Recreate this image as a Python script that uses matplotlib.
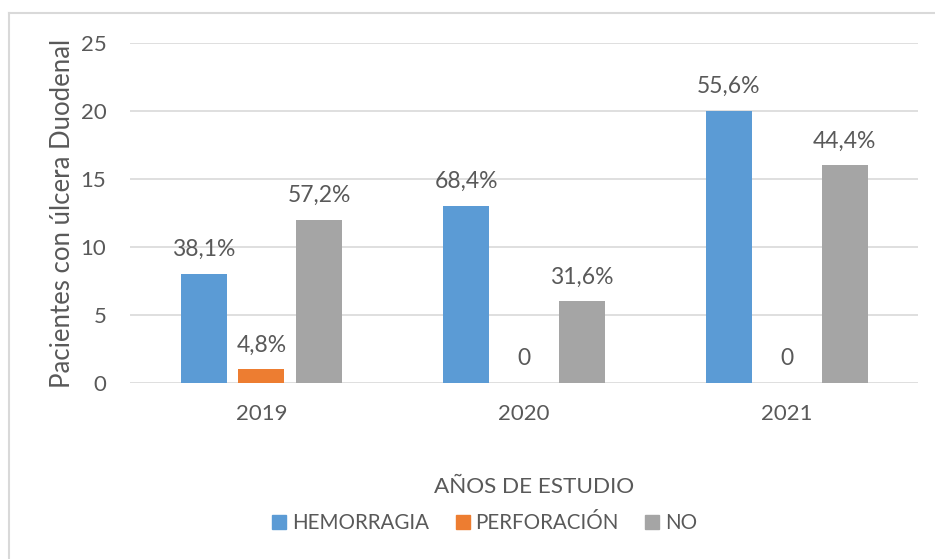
import matplotlib
matplotlib.use("Agg")
import matplotlib.pyplot as plt
import numpy as np
from matplotlib.lines import Line2D

plt.rcParams['font.family'] = ['Lato', 'DejaVu Sans']

years = ['2019', '2020', '2021']
series_names = ['HEMORRAGIA', 'PERFORACIÓN', 'NO']
hemorragia = [8, 13, 20]
perforacion = [1, 0, 0]
no_complic = [12, 6, 16]
lbl_hemorragia = ['38,1%', '68,4%', '55,6%']
lbl_perforacion = ['4,8%', '0', '0']
lbl_no = ['57,2%', '31,6%', '44,4%']
y_ticks = [0, 5, 10, 15, 20, 25]

colors = ['#5B9BD5', '#ED7D31', '#A5A5A5']
text_col = '#595959'
grid_col = '#D9D9D9'

fig = plt.figure(figsize=(9.35, 5.59), dpi=100)
ax = fig.add_axes([0.139, 0.315, 0.843, 0.608])

x = np.arange(len(years))
width = 0.175
step = 0.22
all_vals = [hemorragia, perforacion, no_complic]
all_lbls = [lbl_hemorragia, lbl_perforacion, lbl_no]
for i, (vals, lbls) in enumerate(zip(all_vals, all_lbls)):
    pos = x + (i - 1) * step
    ax.bar(pos, vals, width, color=colors[i], zorder=3)
    for p, v, l in zip(pos, vals, lbls):
        ax.annotate(l, (p, v), xytext=(0, 10), textcoords='offset points',
                    ha='center', va='bottom', fontsize=16.5, color=text_col)

ax.set_xlim(-0.5, 2.5)
ax.set_ylim(0, 25)
ax.set_yticks(y_ticks)
ax.set_xticks(x)
ax.set_xticklabels(years)
ax.grid(axis='y', color=grid_col, linewidth=1.2, zorder=0)
for s in ax.spines.values():
    s.set_visible(False)
ax.tick_params(length=0, labelsize=16, colors=text_col)
ax.tick_params(axis='x', pad=15)
ax.tick_params(axis='y', pad=17)
ax.set_ylabel('Pacientes con úlcera Duodenal', fontsize=18.5, color=text_col, labelpad=4)
ax.set_xlabel('AÑOS DE ESTUDIO', fontsize=16.2, color=text_col, labelpad=38)
ax.xaxis.label.set_x(0.5 + 10 / 788)

handles = [Line2D([], [], marker='s', linestyle='none', markersize=10,
                  markerfacecolor=c, markeredgecolor=c) for c in colors]
fig.legend(handles, series_names, loc='center', bbox_to_anchor=(483 / 935, 1 - 523 / 559),
           ncol=3, frameon=False, fontsize=14.8, labelcolor=text_col,
           handletextpad=0.1, columnspacing=1.15, handlelength=1)

# chart border (only left and top edges visible in the crop)
fig.add_artist(Line2D([8.5 / 935, 8.5 / 935], [0, 1 - 13 / 559], transform=fig.transFigure,
                      color=grid_col, linewidth=1.5))
fig.add_artist(Line2D([8.5 / 935, 1], [1 - 13 / 559, 1 - 13 / 559], transform=fig.transFigure,
                      color=grid_col, linewidth=1.5))

fig.savefig('out.png', dpi=100)
